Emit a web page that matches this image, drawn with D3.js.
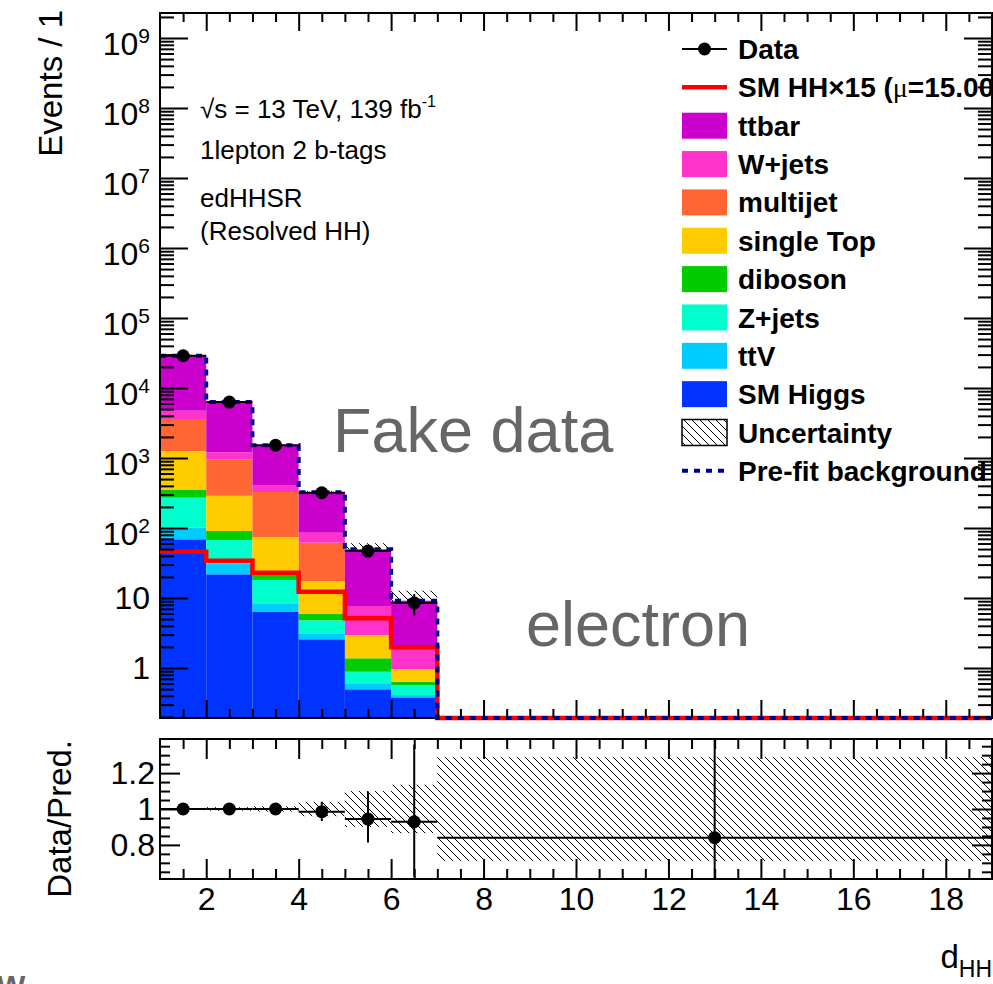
<!DOCTYPE html>
<html>
<head>
<meta charset="utf-8">
<script src="https://cdn.jsdelivr.net/npm/d3@7"></script>
<style>
  body { margin: 0; background: #fff; }
  svg { display: block; font-family: "Liberation Sans", Arial, Helvetica, sans-serif; }
</style>
</head>
<body>
<svg id="chart" width="993" height="984"></svg>
<script>
// ---- binning (d_HH) ----
const binEdges = [1, 2, 3, 4, 5, 6, 7, 19];

// ---- background samples, stacked bottom -> top ----
const sampleNames  = ["SM Higgs", "ttV", "Z+jets", "diboson", "single Top", "multijet", "W+jets", "ttbar"];
const sampleColors = ["#0033ff", "#00ccff", "#00ffcc", "#00cc00", "#ffcc00", "#ff6633", "#ff33cc", "#cc00cc"];
const smHiggs   = [68.9, 21.8, 6.4, 2.57, 0.496, 0.381, 0.02];
const ttV       = [32.1, 8.8, 2.0, 0.49, 0.094, 0.03, 0.005];
const zJets     = [170, 36.8, 9.7, 1.74, 0.295, 0.161, 0.01];
const diboson   = [78, 23.2, 6.4, 1.1, 0.49, 0.065, 0.005];
const singleTop = [910, 198, 49.1, 11.6, 1.585, 0.32, 0.015];
const multijet  = [2347, 668, 253, 44.2, 0, 0, 0];
const wJets     = [1134, 249, 84, 24, 4.73, 1.173, 0.015];
const ttbar     = [24160, 5104, 1107, 238, 41.9, 7.02, 0.05];

// ---- other histograms ----
const smHHx15          = [45.8, 34.1, 23.0, 12.3, 5.13, 1.98, 0.03];
const prefitBackground = [28900, 6310, 1518, 324, 49.6, 9.15, 0.12];
const stackUncertainty = [145, 63, 23, 13, 11, 3.6, 0.035];
const dataValues       = [28900, 6300, 1520, 319, 46.8, 8.5, 0.1];
const dataErrors       = [170, 79, 39, 17.9, 6.8, 2.9, 0.32];

// ---- ratio panel ----
const ratioValues   = [1.0, 1.0, 1.0, 0.985, 0.944, 0.929, 0.84];
const ratioErrUp    = [0.006, 0.013, 0.026, 0.055, 0.153, 0.43, 1.0];
const ratioErrDown  = [0.006, 0.013, 0.026, 0.052, 0.13, 0.307, 0.84];
const ratioBand     = [0.005, 0.01, 0.015, 0.04, 0.1, 0.135, 0.29];

// ---- tick labels ----
const xTickValues     = [2, 4, 6, 8, 10, 12, 14, 16, 18];
const xTickLabels     = ["2", "4", "6", "8", "10", "12", "14", "16", "18"];
const yTickExponents  = [0, 1, 2, 3, 4, 5, 6, 7, 8, 9];
const ratioTickValues = [0.8, 1.0, 1.2];
const ratioTickLabels = ["0.8", "1", "1.2"];

// ---- geometry ----
const X0 = 160, X1 = 992;
const MT = 13, MB = 718;     // main pad frame
const RT = 739, RB = 879;    // ratio pad frame
const FONT = "'Liberation Sans', Arial, Helvetica, sans-serif";

const svg = d3.select("#chart");

const x = d3.scaleLinear().domain([1, 19]).range([X0, X1]);
const y = d3.scaleLog().domain([Math.pow(10, -50 / 70), Math.pow(10, 655 / 70)]).range([MB, MT]);
const r = d3.scaleLinear().domain([0.61, 1.39]).range([RB, RT]);
const yMin = y.domain()[0], yMax = y.domain()[1];
const yc = v => y(Math.min(Math.max(v, yMin), yMax));
const rc = v => r(Math.min(Math.max(v, r.domain()[0]), r.domain()[1]));

const defs = svg.append("defs");
const hatch = defs.append("pattern").attr("id", "hatch")
  .attr("patternUnits", "userSpaceOnUse").attr("width", 8).attr("height", 8);
hatch.append("path").attr("d", "M0,0 L8,8 M-2,6 L2,10 M6,-2 L10,2")
  .attr("stroke", "#000").attr("stroke-width", 1).attr("fill", "none");
defs.append("clipPath").attr("id", "clipMain").append("rect")
  .attr("x", X0).attr("y", MT).attr("width", X1 - X0).attr("height", MB - MT + 6);
defs.append("clipPath").attr("id", "clipRatio").append("rect")
  .attr("x", X0).attr("y", RT).attr("width", X1 - X0).attr("height", RB - RT);

const bins = d3.range(binEdges.length - 1).map(i => ({
  i, lo: binEdges[i], hi: binEdges[i + 1], mid: (binEdges[i] + binEdges[i + 1]) / 2
}));

// ---------------- main pad ----------------
const main = svg.append("g").attr("clip-path", "url(#clipMain)");

// uncertainty band on the total (drawn beneath the stack)
main.append("g").selectAll("rect").data(bins).join("rect")
  .attr("x", d => x(d.lo)).attr("width", d => x(d.hi) - x(d.lo))
  .attr("y", d => yc(prefitBackground[d.i] + stackUncertainty[d.i]))
  .attr("height", d => yc(prefitBackground[d.i] - stackUncertainty[d.i]) - yc(prefitBackground[d.i] + stackUncertainty[d.i]))
  .attr("fill", "url(#hatch)");

// stacked backgrounds
const sampleSeries = [smHiggs, ttV, zJets, diboson, singleTop, multijet, wJets, ttbar];
const table = bins.map(b => {
  const row = { i: b.i };
  sampleNames.forEach((n, k) => { row[n] = sampleSeries[k][b.i]; });
  return row;
});
const stacked = d3.stack().keys(sampleNames)(table);
main.append("g").selectAll("g").data(stacked).join("g")
  .attr("fill", (d, k) => sampleColors[k])
  .selectAll("rect").data(d => d).join("rect")
  .attr("x", d => x(binEdges[d.data.i]))
  .attr("width", d => x(binEdges[d.data.i + 1]) - x(binEdges[d.data.i]))
  .attr("y", d => yc(d[1]))
  .attr("height", d => Math.max(0, yc(d[0] > 0 ? d[0] : yMin) - yc(d[1])));

// frames
svg.append("rect").attr("x", X0).attr("y", MT).attr("width", X1 - X0).attr("height", MB - MT)
  .attr("fill", "none").attr("stroke", "#000").attr("stroke-width", 2);
svg.append("rect").attr("x", X0).attr("y", RT).attr("width", X1 - X0).attr("height", RB - RT)
  .attr("fill", "none").attr("stroke", "#000").attr("stroke-width", 2);

// step lines: signal and pre-fit background (drawn over the lower frame edge in the empty bin)
const stepPoints = vals => bins.map(b => [b.lo, vals[b.i]]).concat([[binEdges[binEdges.length - 1], vals[vals.length - 1]]]);
const stepLine = d3.line().x(d => x(d[0])).y(d => yc(d[1])).curve(d3.curveStepAfter);
const lines = svg.append("g").attr("clip-path", "url(#clipMain)");
lines.append("path").attr("d", stepLine(stepPoints(smHHx15)))
  .attr("fill", "none").attr("stroke", "#ff0000").attr("stroke-width", 4.5);
lines.append("path").attr("d", stepLine(stepPoints(prefitBackground)))
  .attr("fill", "none").attr("stroke", "#000096").attr("stroke-width", 4).attr("stroke-dasharray", "6,6");

// data points
const shownData = bins.filter(b => dataValues[b.i] >= yMin);
const dataG = svg.append("g").attr("clip-path", "url(#clipMain)");
dataG.selectAll("line.xe").data(shownData).join("line").attr("class", "xe")
  .attr("x1", d => x(d.lo)).attr("x2", d => x(d.hi))
  .attr("y1", d => yc(dataValues[d.i])).attr("y2", d => yc(dataValues[d.i]))
  .attr("stroke", "#000").attr("stroke-width", 2);
dataG.selectAll("line.ye").data(shownData).join("line").attr("class", "ye")
  .attr("x1", d => x(d.mid)).attr("x2", d => x(d.mid))
  .attr("y1", d => yc(dataValues[d.i] - dataErrors[d.i])).attr("y2", d => yc(dataValues[d.i] + dataErrors[d.i]))
  .attr("stroke", "#000").attr("stroke-width", 2);
dataG.selectAll("circle").data(shownData).join("circle")
  .attr("cx", d => x(d.mid)).attr("cy", d => yc(dataValues[d.i])).attr("r", 6.5).attr("fill", "#000");

// ---------------- ratio pad ----------------
const ratioG = svg.append("g").attr("clip-path", "url(#clipRatio)");
ratioG.selectAll("rect").data(bins).join("rect")
  .attr("x", d => x(d.lo)).attr("width", d => x(d.hi) - x(d.lo))
  .attr("y", d => rc(1 + ratioBand[d.i]))
  .attr("height", d => rc(1 - ratioBand[d.i]) - rc(1 + ratioBand[d.i]))
  .attr("fill", "url(#hatch)");
ratioG.selectAll("line.xe").data(bins).join("line").attr("class", "xe")
  .attr("x1", d => x(d.lo)).attr("x2", d => x(d.hi))
  .attr("y1", d => r(ratioValues[d.i])).attr("y2", d => r(ratioValues[d.i]))
  .attr("stroke", "#000").attr("stroke-width", 2);
ratioG.selectAll("line.ye").data(bins).join("line").attr("class", "ye")
  .attr("x1", d => x(d.mid)).attr("x2", d => x(d.mid))
  .attr("y1", d => rc(ratioValues[d.i] - ratioErrDown[d.i])).attr("y2", d => rc(ratioValues[d.i] + ratioErrUp[d.i]))
  .attr("stroke", "#000").attr("stroke-width", 2);
ratioG.selectAll("circle").data(bins).join("circle")
  .attr("cx", d => x(d.mid)).attr("cy", d => r(ratioValues[d.i])).attr("r", 6.5).attr("fill", "#000");

// ---------------- axes ----------------
function drawAxis(gen, tx, ty) {
  const g = svg.append("g").attr("transform", `translate(${tx},${ty})`).call(gen);
  g.attr("font-family", FONT).attr("font-size", 32);
  g.select(".domain").remove();
  g.selectAll(".tick line").attr("stroke", "#000").attr("stroke-width", 2);
  g.selectAll(".tick text").attr("fill", "#000");
  return g;
}
const none = () => "";
const xMinor = d3.range(1.5, 19, 0.5).filter(v => v % 2 !== 0);
const yMajorVals = yTickExponents.map(e => Math.pow(10, e));
const yMinorVals = [];
for (let e = -1; e <= 9; e++) for (let m = 2; m <= 9; m++) {
  const v = m * Math.pow(10, e);
  if (v > yMin && v < yMax) yMinorVals.push(v);
}
const rMinor = d3.range(0.65, 1.39, 0.05).filter(v => Math.round(v * 100) % 20 !== 0);

// main pad x ticks (top and bottom)
drawAxis(d3.axisBottom(x).tickValues(xTickValues).tickSize(-18).tickFormat(none), 0, MB);
drawAxis(d3.axisBottom(x).tickValues(xMinor).tickSize(-9).tickFormat(none), 0, MB);
drawAxis(d3.axisTop(x).tickValues(xTickValues).tickSize(-18).tickFormat(none), 0, MT);
drawAxis(d3.axisTop(x).tickValues(xMinor).tickSize(-9).tickFormat(none), 0, MT);

// main pad y ticks
const yLab = drawAxis(d3.axisLeft(y).tickValues(yMajorVals).tickSize(-28).tickPadding(10).tickFormat(none), X0, 0);
yLab.selectAll(".tick text").each(function (d, k) {
  const e = yTickExponents[k];
  const t = d3.select(this).attr("text-anchor", "end");
  if (e <= 1) {
    t.text(e === 0 ? "1" : "10");
  } else {
    t.attr("dy", "0.5em");
    t.append("tspan").text("10");
    t.append("tspan").attr("font-size", 21).attr("dy", -12).text(String(e));
  }
});
drawAxis(d3.axisLeft(y).tickValues(yMinorVals).tickSize(-14).tickFormat(none), X0, 0);
drawAxis(d3.axisRight(y).tickValues(yMajorVals).tickSize(-28).tickFormat(none), X1, 0);
drawAxis(d3.axisRight(y).tickValues(yMinorVals).tickSize(-14).tickFormat(none), X1, 0);

// ratio pad axes
drawAxis(d3.axisBottom(x).tickValues(xTickValues).tickSize(-20).tickPadding(8)
  .tickFormat((d, k) => xTickLabels[k]), 0, RB);
drawAxis(d3.axisBottom(x).tickValues(xMinor).tickSize(-10).tickFormat(none), 0, RB);
drawAxis(d3.axisTop(x).tickValues(xTickValues).tickSize(-20).tickFormat(none), 0, RT);
drawAxis(d3.axisTop(x).tickValues(xMinor).tickSize(-10).tickFormat(none), 0, RT);
drawAxis(d3.axisLeft(r).tickValues(ratioTickValues).tickSize(-20).tickPadding(5)
  .tickFormat((d, k) => ratioTickLabels[k]), X0, 0);
drawAxis(d3.axisLeft(r).tickValues(rMinor).tickSize(-10).tickFormat(none), X0, 0);
drawAxis(d3.axisRight(r).tickValues(ratioTickValues).tickSize(-20).tickFormat(none), X1, 0);
drawAxis(d3.axisRight(r).tickValues(rMinor).tickSize(-10).tickFormat(none), X1, 0);

// axis titles
svg.append("text").attr("transform", "translate(62,10) rotate(-90)")
  .attr("text-anchor", "end").attr("font-size", 33).text("Events / 1");
svg.append("text").attr("transform", "translate(71,740) rotate(-90)")
  .attr("text-anchor", "end").attr("font-size", 33).text("Data/Pred.");
const xt = svg.append("text").attr("x", 992).attr("y", 968).attr("text-anchor", "end").attr("font-size", 33);
xt.append("tspan").text("d");
xt.append("tspan").attr("font-size", 23).attr("dy", 9).text("HH");

// ---------------- annotations ----------------
const ann = svg.append("g").attr("font-size", 26).attr("fill", "#000");
const l1 = ann.append("text").attr("x", 200).attr("y", 118);
l1.append("tspan").text("√s = 13 TeV, 139 fb");
l1.append("tspan").attr("font-size", 16).attr("dy", -11).text("-1");
ann.append("text").attr("x", 200).attr("y", 159).text("1lepton 2 b-tags");
ann.append("text").attr("x", 200).attr("y", 207).text("edHHSR");
ann.append("text").attr("x", 200).attr("y", 240).text("(Resolved HH)");

svg.append("text").attr("x", 333).attr("y", 452).attr("font-size", 63).attr("fill", "#666").text("Fake data");
svg.append("text").attr("x", 526).attr("y", 646).attr("font-size", 63).attr("fill", "#666").text("electron");
svg.append("text").attr("x", -3).attr("y", 996).attr("font-size", 30).attr("font-weight", "bold").attr("fill", "#666").text("W");

// ---------------- legend ----------------
const legendRows = [{ kind: "data", label: "Data" }, { kind: "signal", label: "SM HH×15 (" }]
  .concat(sampleNames.map((n, k) => ({ kind: "fill", label: n, color: sampleColors[k] })).reverse())
  .concat([{ kind: "unc", label: "Uncertainty" }, { kind: "prefit", label: "Pre-fit background" }]);
const LX0 = 682, LX1 = 727, LTX = 738, LY0 = 49, LDY = 38.35;
const leg = svg.append("g");
legendRows.forEach((row, k) => {
  const cy = LY0 + k * LDY;
  const g = leg.append("g");
  if (row.kind === "data") {
    g.append("line").attr("x1", LX0).attr("x2", LX1).attr("y1", cy).attr("y2", cy).attr("stroke", "#000").attr("stroke-width", 2);
    g.append("circle").attr("cx", (LX0 + LX1) / 2).attr("cy", cy).attr("r", 6.5).attr("fill", "#000");
  } else if (row.kind === "signal") {
    g.append("line").attr("x1", LX0).attr("x2", LX1).attr("y1", cy).attr("y2", cy).attr("stroke", "#ff0000").attr("stroke-width", 4.5);
  } else if (row.kind === "fill") {
    g.append("rect").attr("x", LX0).attr("y", cy - 13).attr("width", LX1 - LX0).attr("height", 26).attr("fill", row.color);
  } else if (row.kind === "unc") {
    g.append("rect").attr("x", LX0).attr("y", cy - 13).attr("width", LX1 - LX0).attr("height", 26)
      .attr("fill", "url(#hatch)").attr("stroke", "#000").attr("stroke-width", 1.5);
  } else if (row.kind === "prefit") {
    g.append("line").attr("x1", LX0).attr("x2", LX1).attr("y1", cy).attr("y2", cy)
      .attr("stroke", "#000096").attr("stroke-width", 4).attr("stroke-dasharray", "6,6");
  }
  const t = g.append("text").attr("x", LTX).attr("y", cy).attr("dy", "0.36em")
    .attr("font-size", 28).attr("font-weight", "bold").text(row.label);
  if (row.kind === "signal") {
    t.append("tspan").attr("font-weight", "normal").attr("font-family", "'Liberation Serif', serif").text("μ");
    t.append("tspan").text("=15.00)");
  }
});
</script>
</body>
</html>
